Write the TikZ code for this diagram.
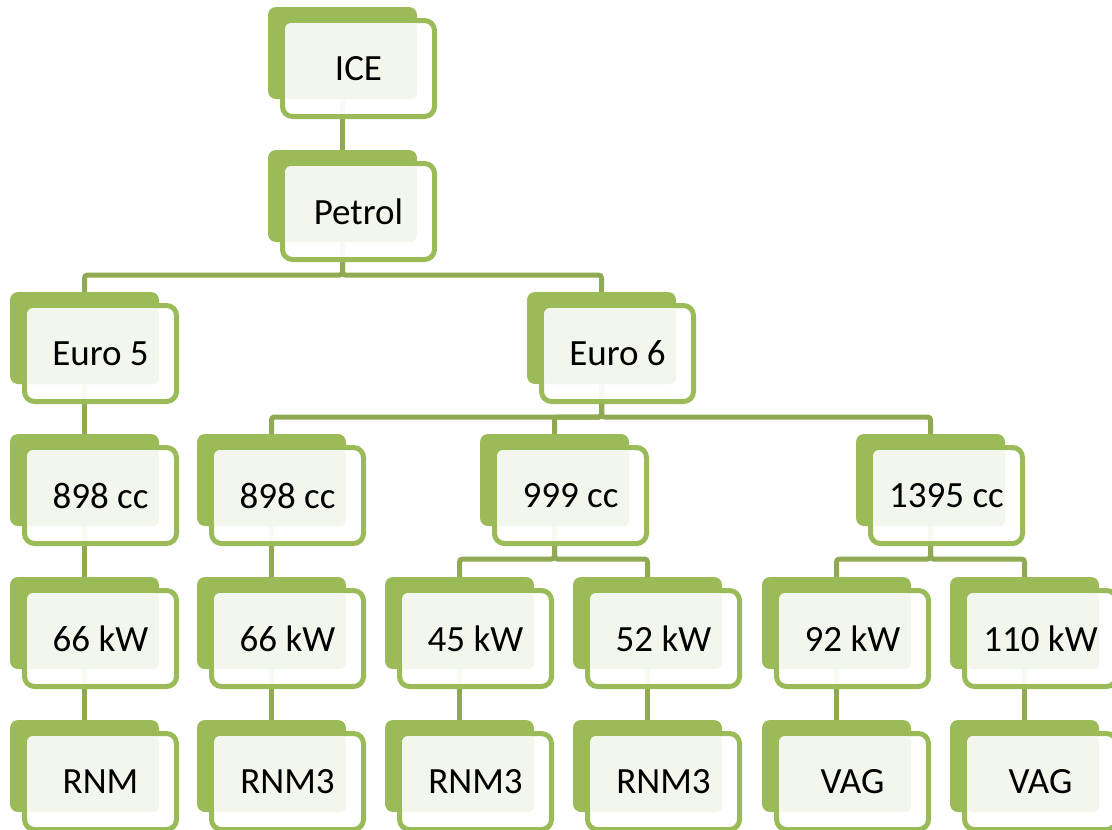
\documentclass[tikz,border=0pt]{standalone}
\usepackage{fontspec}
\setmainfont{Carlito}
\usetikzlibrary{calc}
\definecolor{gr}{HTML}{9BBB59}
\definecolor{grd}{HTML}{8FAA52}
\definecolor{lt}{HTML}{F3F6EC}
\pgfdeclarelayer{bg}\pgfsetlayers{bg,main}
\tikzset{
 backbox/.style={fill=gr, draw=none, rounded corners=8pt, minimum width=149pt, minimum height=92pt, inner sep=0pt, outer sep=0pt},
 frontbox/.style={draw=gr, line width=5pt, fill=white, fill opacity=0.94, rounded corners=10pt, minimum width=152pt, minimum height=96pt, inner sep=0pt, outer sep=0pt},
 lightfill/.style={fill=lt, rounded corners=6pt},
 lbl/.style={font=\fontsize{37}{44}\selectfont, text=black, inner sep=0pt},
 conn/.style={draw=grd, line width=5pt, rounded corners=3pt},
}
\newcommand\tbox[4]{%
 \node[backbox] (#1-b) at ({#2+74.5},{#3+46}) {};
 \node[frontbox] (#1) at ({#2+90.5},{#3+61.5}) {};
 \fill[lightfill] ([xshift=17pt,yshift=-16pt]#1-b.north west) rectangle (#1-b.south east);
 \node[lbl] (#1-t) at (#1.center) {#4};
}
\begin{document}
\begin{tikzpicture}[x=1pt,y=-1pt]
\useasboundingbox (0,0) rectangle (1112,830);
\clip (0,0) rectangle (1112,830);
\tbox{ice}{268}{7}{ICE}
\tbox{pet}{268}{150}{Petrol}
\tbox{eu5}{10}{292}{Euro 5}
\tbox{eu6}{527}{292}{Euro 6}
\tbox{a3}{10}{434}{898 cc}
\tbox{b3}{197}{434}{898 cc}
\tbox{c3}{480}{434}{999 cc}
\tbox{d3}{856}{434}{1395 cc}
\tbox{a4}{10}{577}{66 kW}
\tbox{b4}{197}{577}{66 kW}
\tbox{c4}{385}{577}{45 kW}
\tbox{d4}{573}{577}{52 kW}
\tbox{e4}{762}{577}{92 kW}
\tbox{f4}{950}{577}{110 kW}
\tbox{a5}{10}{720}{RNM}
\tbox{b5}{197}{720}{RNM3}
\tbox{c5}{385}{720}{RNM3}
\tbox{d5}{573}{720}{RNM3}
\tbox{e5}{762}{720}{VAG}
\tbox{f5}{950}{720}{VAG}
\begin{pgfonlayer}{bg}
\draw[conn] (ice-b.south) -- (pet-b.north);
\draw[conn] (pet-b.south) -- ++(0,33) -| (eu5-b.north);
\draw[conn] (pet-b.south) -- ++(0,33) -| (eu6-b.north);
\draw[conn] (eu5-b.south) -- (a3-b.north);
\draw[conn] (eu6-b.south) -- ++(0,33) -| (b3-b.north);
\draw[conn] (eu6-b.south) -- ++(0,33) -| (c3-b.north);
\draw[conn] (eu6-b.south) -- ++(0,33) -| (d3-b.north);
\draw[conn] (a3-b.south) -- (a4-b.north);
\draw[conn] (b3-b.south) -- (b4-b.north);
\draw[conn] (c3-b.south) -- ++(0,33) -| (c4-b.north);
\draw[conn] (c3-b.south) -- ++(0,33) -| (d4-b.north);
\draw[conn] (d3-b.south) -- ++(0,33) -| (e4-b.north);
\draw[conn] (d3-b.south) -- ++(0,33) -| (f4-b.north);
\draw[conn] (a4-b.south) -- (a5-b.north);
\draw[conn] (b4-b.south) -- (b5-b.north);
\draw[conn] (c4-b.south) -- (c5-b.north);
\draw[conn] (d4-b.south) -- (d5-b.north);
\draw[conn] (e4-b.south) -- (e5-b.north);
\draw[conn] (f4-b.south) -- (f5-b.north);
\end{pgfonlayer}
\end{tikzpicture}
\end{document}
